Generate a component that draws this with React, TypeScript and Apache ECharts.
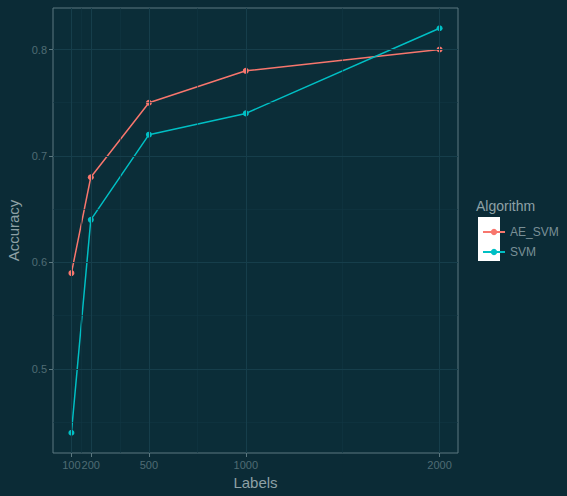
import React, { useEffect, useRef } from "react";
import * as echarts from "echarts";

const labels = [100, 200, 500, 1000, 2000];
const aeSvm = [0.59, 0.68, 0.75, 0.78, 0.8];
const svm = [0.44, 0.64, 0.72, 0.74, 0.82];
const yTicks = [0.5, 0.6, 0.7, 0.8];
const xMinor = [150, 350, 750, 1500];
const yMinor = [0.45, 0.55, 0.65, 0.75];
const seriesNames = ["AE_SVM", "SVM"];

export default function App() {
  const ref = useRef<HTMLDivElement>(null);
  useEffect(() => {
    if (!ref.current) return;
    const chart = echarts.init(ref.current, null, { renderer: "svg" });
    const font = "Liberation Sans, Arial, sans-serif";
    const minorColor = "#103643";
    const majorColor = "#163e4b";
    const gridLines = [
      ...xMinor.map((v) => ({ xAxis: v, lineStyle: { color: minorColor, width: 0.6, type: "solid" } })),
      ...yMinor.map((v) => ({ yAxis: v, lineStyle: { color: minorColor, width: 0.6, type: "solid" } })),
      ...labels.map((v) => ({ xAxis: v, lineStyle: { color: majorColor, width: 1, type: "solid" } })),
      ...yTicks.map((v) => ({ yAxis: v, lineStyle: { color: majorColor, width: 1, type: "solid" } })),
    ];
    chart.setOption({
      animation: false,
      backgroundColor: "#0b2b36",
      textStyle: { fontFamily: font },
      grid: {
        left: 53,
        right: 109,
        top: 8,
        bottom: 43,
        outerBoundsMode: "none",
        containLabel: false,
        show: true,
        borderColor: "#5c7880",
        borderWidth: 1,
        backgroundColor: "#0b2d38",
      },
      xAxis: {
        type: "value",
        min: 5,
        max: 2095,
        name: "Labels",
        nameLocation: "middle",
        nameGap: 22,
        nameTextStyle: { color: "#8ea1a6", fontSize: 15, fontFamily: font },
        axisLine: { show: false },
        axisTick: { show: true, customValues: labels, length: 4, lineStyle: { color: "#5c7880" } },
        axisLabel: {
          customValues: labels,
          color: "#4f6c74",
          fontSize: 11,
          margin: 6,
          fontFamily: font,
          formatter: (v: number) => String(v),
        },
        splitLine: { show: false },
      },
      yAxis: {
        type: "value",
        min: 0.421,
        max: 0.839,
        name: "Accuracy",
        nameLocation: "middle",
        nameGap: 32,
        nameTextStyle: { color: "#8ea1a6", fontSize: 15, fontFamily: font },
        axisLine: { show: false },
        axisTick: { show: true, customValues: yTicks, length: 4, lineStyle: { color: "#5c7880" } },
        axisLabel: {
          customValues: yTicks,
          color: "#4f6c74",
          fontSize: 11,
          margin: 6,
          fontFamily: font,
          formatter: (v: number) => String(Math.round(v * 10) / 10),
        },
        splitLine: { show: false },
      },
      legend: {
        left: 477,
        top: 221,
        orient: "vertical",
        itemWidth: 22,
        itemHeight: 8,
        itemGap: 8,
        data: seriesNames,
        textStyle: { color: "#7a9096", fontSize: 12, fontFamily: font },
      },
      graphic: [
        {
          type: "rect",
          shape: { x: 478, y: 217, width: 22, height: 44 },
          style: { fill: "#ffffff" },
          z: -1,
        },
        {
          type: "text",
          left: 476,
          top: 199,
          style: { text: "Algorithm", fill: "#8ea1a6", fontSize: 14, fontFamily: font },
        },
      ],
      series: [
        {
          name: "grid",
          type: "line",
          data: [],
          silent: true,
          markLine: {
            silent: true,
            symbol: "none",
            label: { show: false },
            animation: false,
            data: gridLines,
          },
          z: 0,
        },
        {
          name: seriesNames[0],
          type: "line",
          data: labels.map((x, i) => [x, aeSvm[i]]),
          color: "#F8766D",
          symbol: "circle",
          symbolSize: 6,
          itemStyle: { color: "#F8766D", borderColor: "#F8766D", borderWidth: 0 },
          lineStyle: { width: 1.5, color: "#F8766D" },
          z: 3,
        },
        {
          name: seriesNames[1],
          type: "line",
          data: labels.map((x, i) => [x, svm[i]]),
          color: "#00BFC4",
          symbol: "circle",
          symbolSize: 6,
          itemStyle: { color: "#00BFC4", borderColor: "#00BFC4", borderWidth: 0 },
          lineStyle: { width: 1.5, color: "#00BFC4" },
          z: 3,
        },
      ],
    });
    return () => chart.dispose();
  }, []);
  return (
    <div
      ref={ref}
      style={{ position: "absolute", left: 0, top: 0, width: 567, height: 496 }}
    />
  );
}
